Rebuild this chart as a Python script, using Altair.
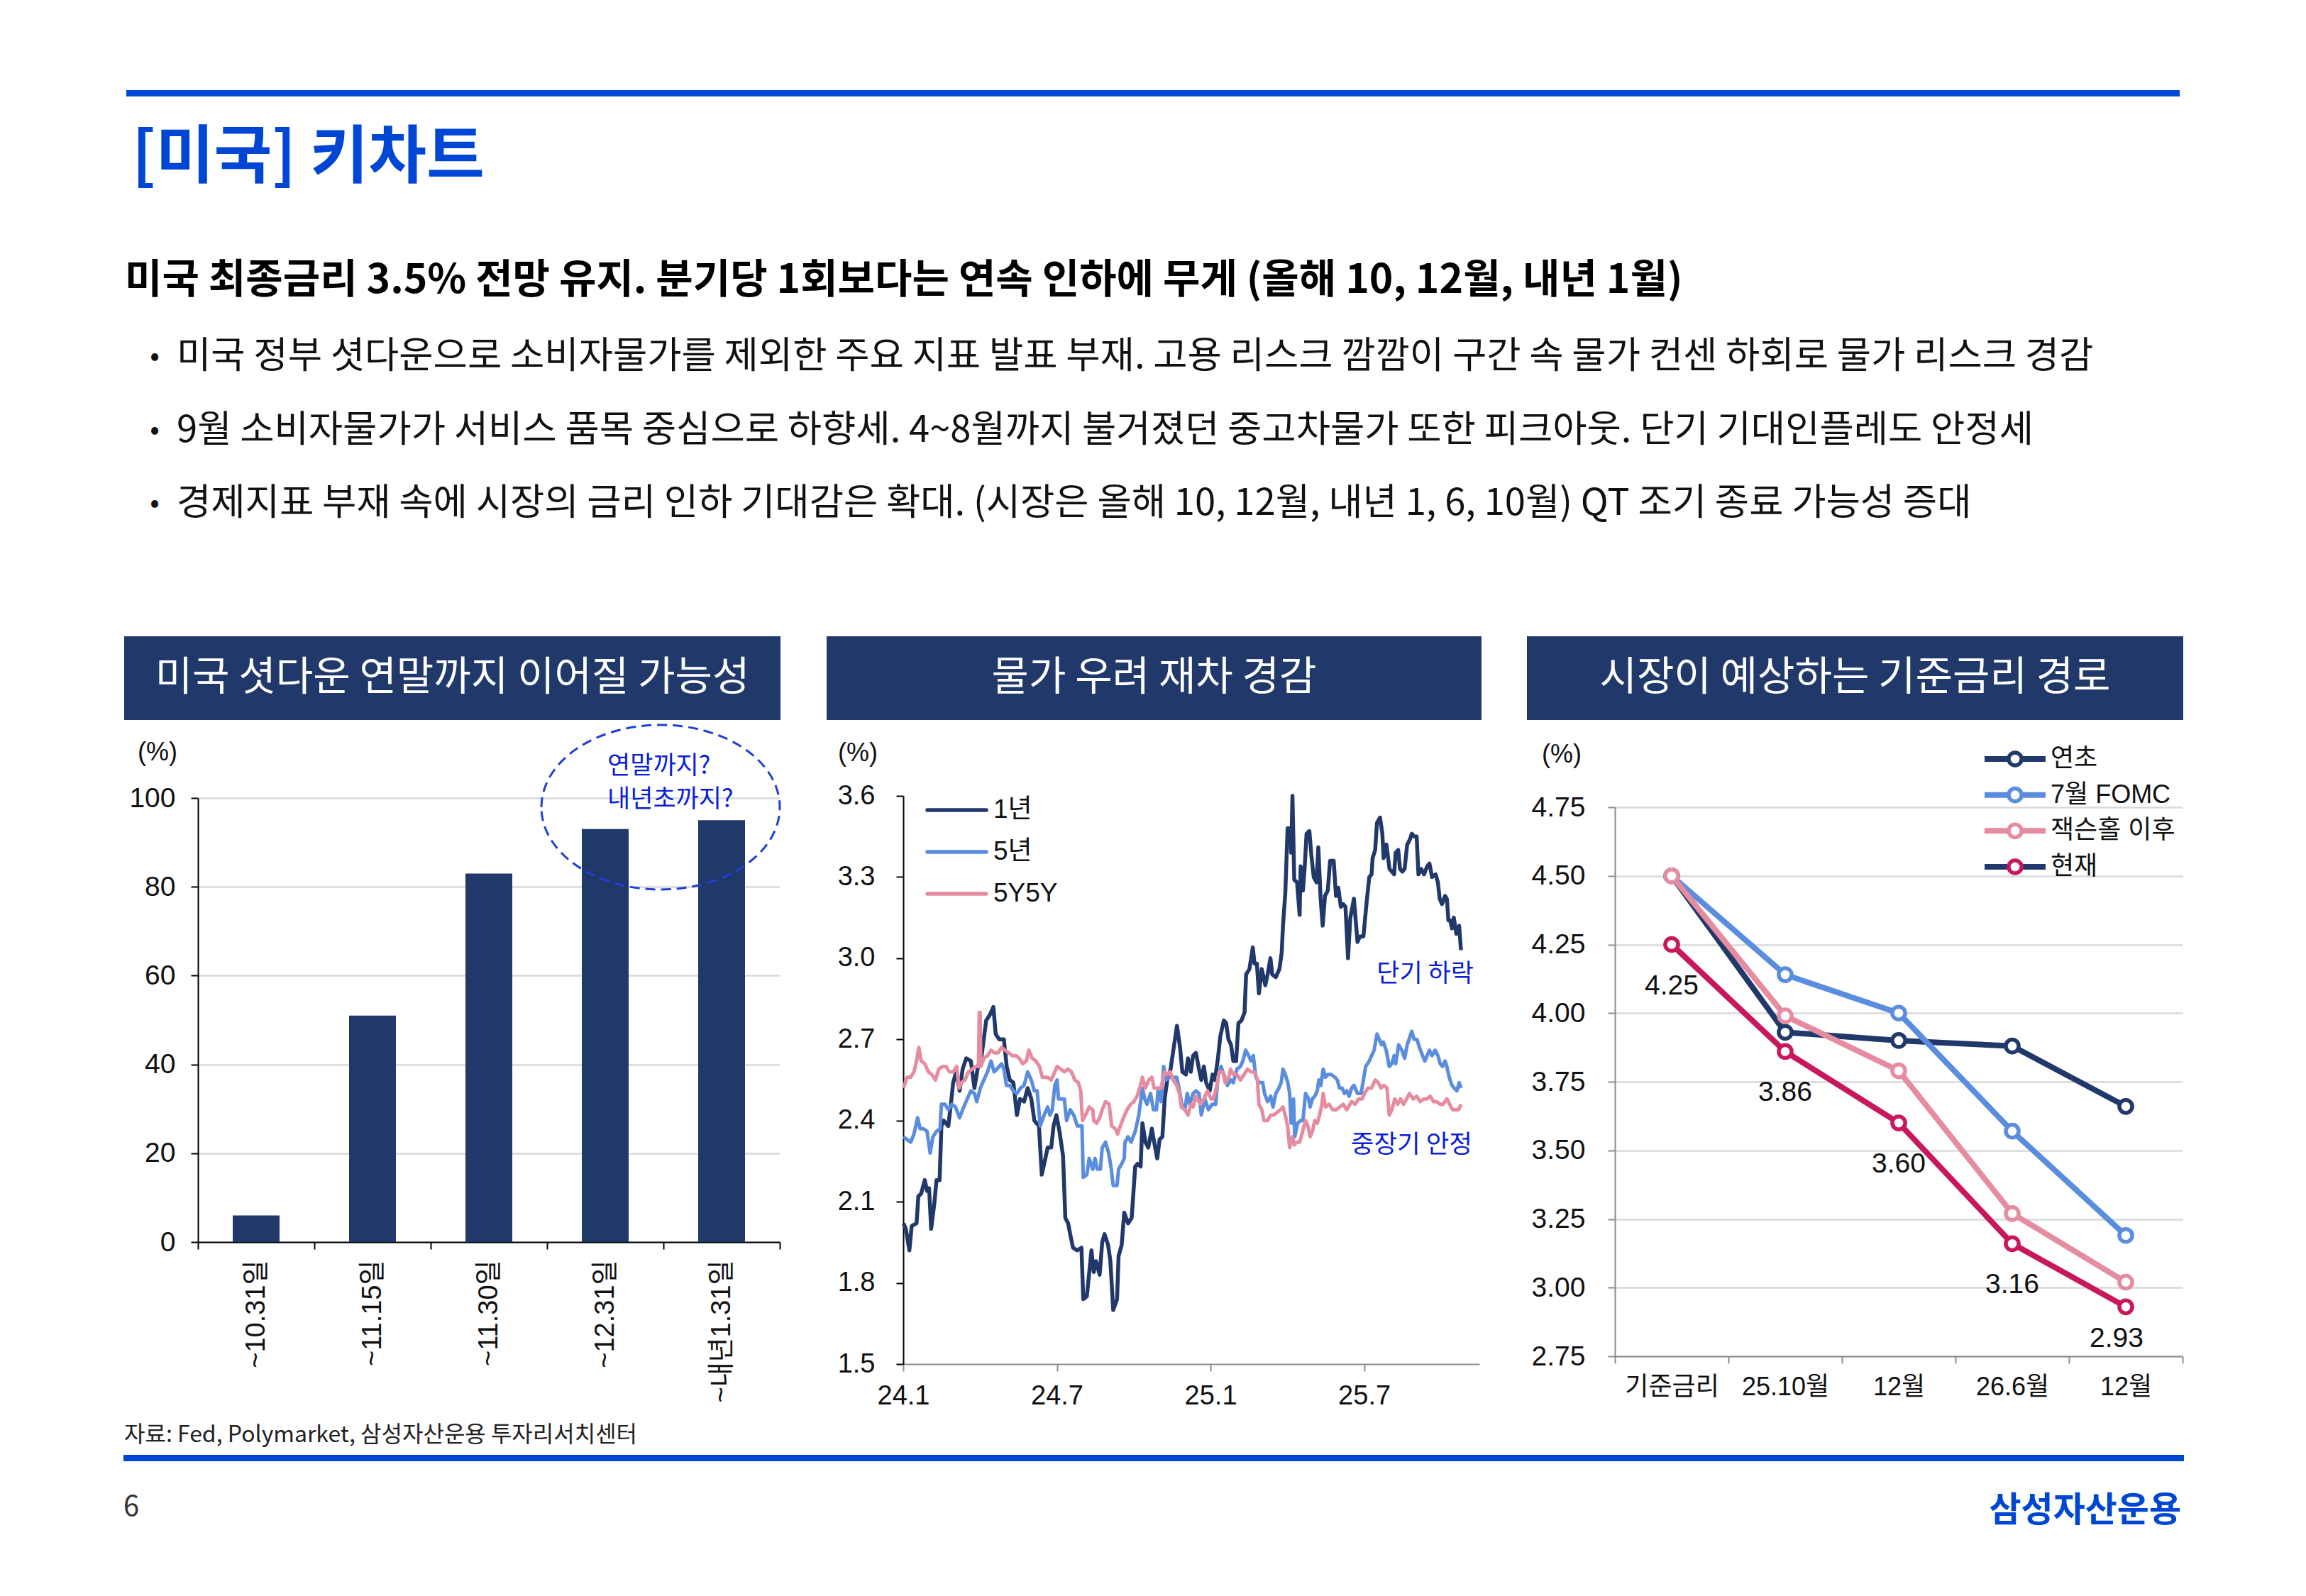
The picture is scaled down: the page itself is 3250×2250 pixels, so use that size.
import json
import altair as alt
import pandas as pd

# ------------------------------------------------------------------ styles
KR = "Noto Sans CJK KR"
LAT = "Liberation Sans, Noto Sans CJK KR"
NAVY = "#21386B"
BLUE = "#5B8DDF"
PINK = "#E68CA0"
RED = "#C8175D"
BRAND = "#0046D5"
ANNO = "#0A1ED8"
ELLIPSE_C = "#1F3FD6"
GRID = "#D9D9D9"
AXIS_GRAY = "#8C8C8C"
INK = "#111111"

# ------------------------------------------------------------------ texts
TITLE = "[미국] 키차트"
HEADLINE = "미국 최종금리 3.5% 전망 유지. 분기당 1회보다는 연속 인하에 무게 (올해 10, 12월, 내년 1월)"
BULLETS = [
    "미국 정부 셧다운으로 소비자물가를 제외한 주요 지표 발표 부재. 고용 리스크 깜깜이 구간 속 물가 컨센 하회로 물가 리스크 경감",
    "9월 소비자물가가 서비스 품목 중심으로 하향세. 4~8월까지 불거졌던 중고차물가 또한 피크아웃. 단기 기대인플레도 안정세",
    "경제지표 부재 속에 시장의 금리 인하 기대감은 확대. (시장은 올해 10, 12월, 내년 1, 6, 10월) QT 조기 종료 가능성 증대",
]
PANEL_TITLES = ["미국 셧다운 연말까지 이어질 가능성", "물가 우려 재차 경감", "시장이 예상하는 기준금리 경로"]
SOURCE = "자료: Fed, Polymarket, 삼성자산운용 투자리서치센터"
PAGE_NO = "6"
LOGO = "삼성자산운용"
UNIT = "(%)"

# ------------------------------------------------------------------ panel 1 data
shut_cats = ["~10.31일", "~11.15일", "~11.30일", "~12.31일", "~내년1.31일"]
shut_vals = [6, 51, 83, 93, 95]
shut_ticks = [0, 20, 40, 60, 80, 100]
ellipse_notes = ["연말까지?", "내년초까지?"]

# ------------------------------------------------------------------ panel 2 data (months since Jan 2024, %)
infl_names = ["1년", "5년", "5Y5Y"]
infl_x_ticks = [0, 6, 12, 18]
infl_x_labels = ["24.1", "24.7", "25.1", "25.7"]
infl_y_ticks = [1.5, 1.8, 2.1, 2.4, 2.7, 3.0, 3.3, 3.6]
infl_notes = ["단기 하락", "중장기 안정"]

one_year = [
    (0.01, 2.02), (0.10, 2.00), (0.24, 1.92), (0.33, 2.01), (0.52, 2.02), (0.59, 2.12), (0.70, 2.13),
    (0.84, 2.18), (0.93, 2.14), (1.01, 2.15), (1.09, 2.00), (1.21, 2.09), (1.30, 2.18), (1.42, 2.18),
    (1.49, 2.38), (1.58, 2.40), (1.76, 2.38), (1.86, 2.46), (1.95, 2.54), (2.07, 2.58), (2.20, 2.51),
    (2.32, 2.59), (2.46, 2.63), (2.64, 2.62), (2.78, 2.52), (2.92, 2.60), (3.06, 2.64), (3.24, 2.77),
    (3.38, 2.79), (3.52, 2.82), (3.61, 2.72), (3.75, 2.70), (3.93, 2.70), (4.04, 2.60), (4.16, 2.55),
    (4.30, 2.54), (4.44, 2.42), (4.56, 2.48), (4.72, 2.47), (4.86, 2.52), (5.00, 2.48), (5.12, 2.40),
    (5.30, 2.38), (5.41, 2.20), (5.55, 2.26), (5.64, 2.30), (5.78, 2.30), (5.87, 2.38), (5.98, 2.42),
    (6.10, 2.36), (6.24, 2.27), (6.33, 2.04), (6.44, 2.02), (6.52, 1.98), (6.63, 1.93), (6.80, 1.92),
    (6.96, 1.93), (7.03, 1.74), (7.17, 1.75), (7.35, 1.92), (7.44, 1.84), (7.53, 1.88), (7.67, 1.83),
    (7.77, 1.95), (7.86, 1.98), (8.00, 1.94), (8.09, 1.88), (8.20, 1.70), (8.35, 1.74), (8.41, 1.90),
    (8.53, 1.94), (8.63, 2.06), (8.78, 2.02), (8.92, 2.04), (9.06, 2.23), (9.15, 2.24), (9.27, 2.23),
    (9.34, 2.39), (9.46, 2.32), (9.57, 2.30), (9.71, 2.37), (9.80, 2.32), (9.92, 2.26), (10.01, 2.33),
    (10.12, 2.34), (10.21, 2.48), (10.31, 2.55), (10.44, 2.59), (10.58, 2.68), (10.69, 2.75), (10.81, 2.67),
    (10.90, 2.58), (11.04, 2.57), (11.12, 2.63), (11.23, 2.58), (11.32, 2.64), (11.43, 2.65), (11.55, 2.59),
    (11.64, 2.55), (11.74, 2.60), (11.83, 2.54), (11.97, 2.51), (12.08, 2.57), (12.17, 2.55), (12.29, 2.63),
    (12.38, 2.71), (12.52, 2.77), (12.61, 2.76), (12.70, 2.70), (12.80, 2.68), (12.89, 2.62), (13.00, 2.62),
    (13.09, 2.76), (13.21, 2.77), (13.33, 2.80), (13.39, 2.94), (13.52, 2.96), (13.65, 3.04), (13.72, 2.98),
    (13.81, 2.98), (13.89, 2.87), (14.00, 2.96), (14.14, 2.90), (14.23, 2.94), (14.34, 3.00), (14.41, 2.94),
    (14.55, 2.93), (14.69, 2.96), (14.78, 3.02), (14.83, 3.12), (14.92, 3.24), (15.01, 3.48), (15.11, 3.48),
    (15.15, 3.39), (15.20, 3.60), (15.27, 3.29), (15.38, 3.28), (15.48, 3.16), (15.52, 3.34), (15.61, 3.25),
    (15.68, 3.34), (15.75, 3.46), (15.86, 3.47), (15.94, 3.38), (16.03, 3.30), (16.14, 3.28), (16.21, 3.41),
    (16.30, 3.22), (16.38, 3.12), (16.47, 3.23), (16.58, 3.25), (16.67, 3.36), (16.81, 3.36), (16.90, 3.23),
    (16.99, 3.26), (17.09, 3.19), (17.18, 3.20), (17.27, 3.19), (17.37, 3.00), (17.46, 3.15), (17.60, 3.22),
    (17.74, 3.06), (17.83, 3.08), (17.97, 3.08), (18.11, 3.22), (18.20, 3.30), (18.29, 3.31), (18.33, 3.37),
    (18.43, 3.40), (18.50, 3.50), (18.62, 3.52), (18.71, 3.46), (18.76, 3.37), (18.87, 3.42), (18.99, 3.33),
    (19.08, 3.32), (19.17, 3.31), (19.23, 3.39), (19.33, 3.40), (19.40, 3.33), (19.49, 3.32), (19.58, 3.33),
    (19.68, 3.42), (19.79, 3.44), (19.86, 3.46), (19.95, 3.45), (20.05, 3.45), (20.12, 3.31), (20.23, 3.33),
    (20.34, 3.31), (20.46, 3.34), (20.55, 3.35), (20.65, 3.30), (20.79, 3.31), (20.88, 3.28), (20.95, 3.22),
    (21.04, 3.20), (21.16, 3.23), (21.23, 3.22), (21.29, 3.14), (21.36, 3.14), (21.43, 3.11), (21.50, 3.15),
    (21.60, 3.09), (21.71, 3.12), (21.78, 3.03),
]

five_year = [
    (0.01, 2.34), (0.15, 2.33), (0.29, 2.32), (0.42, 2.35), (0.56, 2.41), (0.66, 2.37), (0.79, 2.37),
    (0.93, 2.36), (1.05, 2.28), (1.16, 2.34), (1.30, 2.36), (1.44, 2.37), (1.49, 2.46), (1.63, 2.46),
    (1.76, 2.44), (1.90, 2.46), (2.04, 2.45), (2.20, 2.41), (2.36, 2.45), (2.50, 2.48), (2.64, 2.51),
    (2.78, 2.50), (2.87, 2.47), (3.01, 2.52), (3.15, 2.55), (3.29, 2.58), (3.43, 2.62), (3.55, 2.58),
    (3.66, 2.59), (3.84, 2.61), (3.93, 2.59), (4.03, 2.53), (4.16, 2.53), (4.30, 2.51), (4.44, 2.50),
    (4.58, 2.52), (4.72, 2.53), (4.86, 2.58), (5.00, 2.55), (5.12, 2.51), (5.23, 2.51), (5.35, 2.38),
    (5.50, 2.42), (5.64, 2.45), (5.73, 2.42), (5.82, 2.44), (5.92, 2.53), (6.01, 2.55), (6.06, 2.48),
    (6.20, 2.48), (6.29, 2.48), (6.38, 2.40), (6.52, 2.44), (6.66, 2.42), (6.80, 2.38), (6.98, 2.38),
    (7.03, 2.19), (7.17, 2.20), (7.26, 2.26), (7.40, 2.22), (7.49, 2.26), (7.58, 2.22), (7.70, 2.22),
    (7.77, 2.30), (7.90, 2.32), (8.02, 2.28), (8.11, 2.23), (8.20, 2.16), (8.35, 2.16), (8.41, 2.22),
    (8.53, 2.24), (8.63, 2.26), (8.66, 2.32), (8.78, 2.34), (8.90, 2.32), (9.06, 2.36), (9.20, 2.42),
    (9.34, 2.52), (9.43, 2.48), (9.52, 2.46), (9.66, 2.50), (9.77, 2.44), (9.89, 2.44), (9.95, 2.51),
    (10.07, 2.47), (10.17, 2.60), (10.26, 2.55), (10.40, 2.56), (10.54, 2.56), (10.68, 2.56), (10.79, 2.51),
    (10.88, 2.46), (11.00, 2.44), (11.09, 2.50), (11.19, 2.46), (11.32, 2.50), (11.43, 2.51), (11.55, 2.50),
    (11.64, 2.42), (11.78, 2.48), (11.92, 2.44), (12.06, 2.46), (12.20, 2.46), (12.29, 2.56), (12.41, 2.60),
    (12.52, 2.57), (12.66, 2.53), (12.80, 2.55), (12.89, 2.54), (13.03, 2.59), (13.17, 2.60), (13.26, 2.62),
    (13.37, 2.66), (13.49, 2.64), (13.58, 2.62), (13.67, 2.64), (13.77, 2.56), (13.90, 2.54), (14.04, 2.54),
    (14.11, 2.50), (14.23, 2.47), (14.35, 2.49), (14.44, 2.45), (14.55, 2.50), (14.67, 2.52), (14.76, 2.54),
    (14.83, 2.59), (14.92, 2.57), (15.02, 2.54), (15.09, 2.50), (15.15, 2.39), (15.24, 2.48), (15.29, 2.34),
    (15.40, 2.39), (15.52, 2.40), (15.61, 2.40), (15.71, 2.50), (15.83, 2.48), (15.89, 2.45), (15.98, 2.48),
    (16.07, 2.49), (16.17, 2.51), (16.23, 2.55), (16.31, 2.53), (16.40, 2.59), (16.49, 2.56), (16.58, 2.57),
    (16.72, 2.57), (16.86, 2.56), (16.95, 2.55), (17.04, 2.52), (17.14, 2.52), (17.23, 2.50), (17.32, 2.51),
    (17.41, 2.49), (17.51, 2.52), (17.60, 2.53), (17.74, 2.50), (17.88, 2.50), (17.97, 2.55), (18.06, 2.60),
    (18.20, 2.62), (18.29, 2.64), (18.39, 2.66), (18.50, 2.72), (18.59, 2.70), (18.68, 2.68), (18.75, 2.69),
    (18.86, 2.66), (18.98, 2.60), (19.08, 2.61), (19.17, 2.64), (19.23, 2.61), (19.35, 2.68), (19.47, 2.66),
    (19.58, 2.63), (19.68, 2.68), (19.79, 2.71), (19.86, 2.73), (19.95, 2.70), (20.06, 2.70), (20.16, 2.67),
    (20.28, 2.64), (20.37, 2.62), (20.46, 2.64), (20.55, 2.66), (20.65, 2.64), (20.77, 2.66), (20.88, 2.64),
    (20.97, 2.61), (21.06, 2.60), (21.16, 2.62), (21.23, 2.60), (21.32, 2.56), (21.43, 2.53), (21.52, 2.52),
    (21.62, 2.51), (21.71, 2.54), (21.78, 2.52),
]

five_y_five_y = [
    (0.01, 2.52), (0.15, 2.56), (0.29, 2.56), (0.42, 2.58), (0.52, 2.62), (0.61, 2.67), (0.70, 2.62),
    (0.84, 2.61), (0.98, 2.58), (1.12, 2.57), (1.26, 2.55), (1.39, 2.59), (1.53, 2.60), (1.67, 2.60),
    (1.81, 2.58), (1.95, 2.58), (2.09, 2.60), (2.18, 2.52), (2.27, 2.54), (2.41, 2.55), (2.55, 2.58),
    (2.69, 2.59), (2.83, 2.60), (2.94, 2.60), (2.97, 2.80), (3.00, 2.80), (3.03, 2.60), (3.15, 2.63),
    (3.29, 2.64), (3.43, 2.66), (3.56, 2.65), (3.70, 2.65), (3.84, 2.67), (3.98, 2.66), (4.12, 2.65),
    (4.26, 2.64), (4.40, 2.64), (4.53, 2.63), (4.67, 2.61), (4.81, 2.62), (4.90, 2.66), (5.04, 2.63),
    (5.18, 2.62), (5.32, 2.60), (5.43, 2.56), (5.55, 2.56), (5.64, 2.56), (5.78, 2.55), (5.92, 2.58),
    (6.01, 2.60), (6.15, 2.59), (6.29, 2.58), (6.43, 2.59), (6.57, 2.58), (6.70, 2.55), (6.84, 2.54),
    (6.93, 2.51), (7.00, 2.40), (7.12, 2.42), (7.26, 2.45), (7.40, 2.44), (7.44, 2.40), (7.55, 2.39),
    (7.67, 2.41), (7.77, 2.44), (7.90, 2.47), (8.04, 2.46), (8.14, 2.38), (8.28, 2.37), (8.37, 2.35),
    (8.48, 2.38), (8.60, 2.41), (8.74, 2.44), (8.88, 2.46), (9.01, 2.47), (9.13, 2.49), (9.24, 2.52),
    (9.34, 2.56), (9.46, 2.52), (9.59, 2.55), (9.71, 2.56), (9.80, 2.52), (9.94, 2.52), (10.07, 2.52),
    (10.20, 2.58), (10.31, 2.57), (10.42, 2.58), (10.54, 2.55), (10.68, 2.53), (10.79, 2.50), (10.86, 2.45),
    (11.00, 2.44), (11.12, 2.42), (11.23, 2.46), (11.32, 2.45), (11.43, 2.49), (11.60, 2.46), (11.74, 2.48),
    (11.88, 2.51), (12.02, 2.48), (12.11, 2.48), (12.25, 2.53), (12.34, 2.58), (12.48, 2.58), (12.57, 2.54),
    (12.71, 2.56), (12.78, 2.59), (12.89, 2.57), (13.03, 2.57), (13.17, 2.55), (13.31, 2.57), (13.44, 2.59),
    (13.58, 2.58), (13.72, 2.58), (13.83, 2.55), (13.89, 2.46), (14.00, 2.44), (14.09, 2.40), (14.23, 2.40),
    (14.35, 2.42), (14.46, 2.42), (14.60, 2.43), (14.73, 2.44), (14.83, 2.45), (14.92, 2.42), (15.01, 2.38),
    (15.09, 2.30), (15.20, 2.34), (15.27, 2.31), (15.36, 2.32), (15.48, 2.32), (15.57, 2.35), (15.71, 2.40),
    (15.80, 2.38), (15.89, 2.34), (15.98, 2.36), (16.07, 2.40), (16.17, 2.39), (16.26, 2.42), (16.35, 2.46),
    (16.40, 2.50), (16.49, 2.45), (16.63, 2.46), (16.77, 2.44), (16.91, 2.44), (17.04, 2.45), (17.18, 2.46),
    (17.32, 2.44), (17.51, 2.47), (17.65, 2.46), (17.78, 2.48), (17.92, 2.48), (18.01, 2.50), (18.15, 2.52),
    (18.29, 2.52), (18.43, 2.55), (18.55, 2.54), (18.66, 2.52), (18.77, 2.53), (18.89, 2.52), (18.98, 2.42),
    (19.08, 2.44), (19.20, 2.48), (19.31, 2.46), (19.42, 2.48), (19.54, 2.46), (19.66, 2.48), (19.77, 2.50),
    (19.91, 2.48), (20.05, 2.49), (20.19, 2.47), (20.33, 2.48), (20.46, 2.48), (20.58, 2.49), (20.71, 2.47),
    (20.83, 2.47), (20.97, 2.46), (21.08, 2.46), (21.23, 2.48), (21.34, 2.46), (21.45, 2.44), (21.53, 2.44),
    (21.69, 2.44), (21.78, 2.46),
]

# ------------------------------------------------------------------ panel 3 data
path_cats = ["기준금리", "25.10월", "12월", "26.6월", "12월"]
path_names = ["연초", "7월 FOMC", "잭슨홀 이후", "현재"]
path_start = [4.50, 3.93, 3.90, 3.88, 3.66]
path_july = [4.50, 4.14, 4.00, 3.57, 3.19]
path_jackson = [4.50, 3.99, 3.79, 3.27, 3.02]
path_now = [4.25, 3.86, 3.60, 3.16, 2.93]
path_y_ticks = [2.75, 3.0, 3.25, 3.5, 3.75, 4.0, 4.25, 4.5, 4.75]

# ------------------------------------------------------------------ layout (page pixels)
P1_X, P2_X, P3_X, P_Y = 279, 1273, 2276, 897
P1_W, P1_H, P1_TOP = 820, 854, 228
P2_W, P2_H, P2_PLOT_W, P2_TOP = 829, 1026, 812, 225
P3_W, P3_H, P3_TOP = 800, 1015, 241
GAP = 174
ONE = pd.DataFrame({"a": [0]})
NO_FRAME = alt.ViewBackground(stroke="transparent", strokeWidth=0)


def txt(s, x, y, ox, size, color=INK, weight="normal", align="left", font=KR):
    return alt.Chart(pd.DataFrame({"t": [s]})).mark_text(
        align=align, baseline="middle", font=font, fontSize=size, fontWeight=weight, color=color
    ).encode(x=alt.value(x - ox), y=alt.value(y - P_Y), text="t:N")


def box(x1, y1, x2, y2, ox, color, opacity=1):
    return alt.Chart(ONE).mark_rect(color=color, opacity=opacity).encode(
        x=alt.value(x1 - ox), x2=alt.value(x2 - ox), y=alt.value(y1 - P_Y), y2=alt.value(y2 - P_Y)
    )


def header(i, ox):
    a, b = [(175, 1100), (1165, 2088), (2152, 3077)][i]
    return [box(a, 897, b, 1015, ox, NAVY),
            txt(PANEL_TITLES[i], (a + b) / 2, 956, ox, 57, "white", align="center")]


# ================================================================== panel 1 (+ page decorations)
deco = [
    box(8, 8, 3242, 2242, P1_X, "white", opacity=0),     # fixes the page extent
    box(178, 127, 3072, 136, P1_X, BRAND),
    txt(TITLE, 186, 223, P1_X, 89, BRAND, "bold"),
    txt(HEADLINE, 176, 396, P1_X, 57, "#000000", "bold"),
]
for i, b in enumerate(BULLETS):
    yy = [503, 607, 710][i]
    deco.append(txt("•", 218, yy, P1_X, 40, INK, align="center"))
    deco.append(txt(b, 249, yy, P1_X, 52.5, INK))

deco += header(0, P1_X)
deco += [
    txt(SOURCE, 175, 2023, P1_X, 32, "#222222"),
    box(174, 2051, 3078, 2060, P1_X, BRAND),
    txt(PAGE_NO, 174, 2125, P1_X, 40, "#333333"),
    txt(LOGO, 3074, 2130, P1_X, 49, BRAND, "bold", align="right"),
    txt(UNIT, 222, 1061, P1_X, 36, INK, align="center", font=LAT),
]

bar_df = pd.DataFrame({"cat": shut_cats, "val": shut_vals})
x_bar = alt.X(
    "cat:N", sort=shut_cats,
    scale=alt.Scale(domain=shut_cats, range=[0, P1_W], paddingInner=0, paddingOuter=0),
    axis=alt.Axis(title=None, labelAngle=-90, labelFont=LAT, labelFontSize=38, labelColor=INK,
                  labelLimit=400, labelPadding=15, tickBand="extent", tickSize=10, tickColor="#000000",
                  tickWidth=2, domainColor="#000000", domainWidth=2),
)
y_bar = alt.Y(
    "val:Q", scale=alt.Scale(domain=[0, 100], range=[P1_H, P1_TOP], nice=False),
    axis=alt.Axis(title=None, values=shut_ticks, grid=True, gridColor=GRID, gridWidth=2.5,
                  labelFont=LAT, labelFontSize=39, labelColor=INK, labelPadding=22, tickSize=10,
                  tickColor="#000000", tickWidth=2, domainColor="#000000", domainWidth=2),
)
bars = alt.Chart(bar_df).mark_bar(color=NAVY, width=66).encode(x=x_bar, y=y_bar)

k = 0.5523
ry = 116 / 168
ELLIPSE = (
    f"M-1,0C-1,{-k*ry:.4f} {-k:.4f},{-ry:.4f} 0,{-ry:.4f}C{k:.4f},{-ry:.4f} 1,{-k*ry:.4f} 1,0"
    f"C1,{k*ry:.4f} {k:.4f},{ry:.4f} 0,{ry:.4f}C{-k:.4f},{ry:.4f} -1,{k*ry:.4f} -1,0Z"
)
ellipse = alt.Chart(ONE).mark_point(
    shape=ELLIPSE, size=336 ** 2, filled=False, stroke=ELLIPSE_C, strokeWidth=3,
    strokeDash=[14, 8], opacity=1
).encode(x=alt.value(931 - P1_X), y=alt.value(1138 - P_Y))
ell_txt = [txt(s, 856, y, P1_X, 35, ANNO) for s, y in zip(ellipse_notes, [1080, 1127])]

p1 = alt.layer(*deco, bars, ellipse, *ell_txt).properties(width=P1_W, height=P1_H, view=NO_FRAME)

# ================================================================== panel 2
lab_expr2 = (f"{json.dumps(infl_x_labels, ensure_ascii=False)}"
             f"[indexof({json.dumps(infl_x_ticks)}, datum.value)]")
x_m = alt.X(
    "m:Q", scale=alt.Scale(domain=[0, 22.5], range=[0, P2_PLOT_W], nice=False, zero=False),
    axis=alt.Axis(title=None, values=infl_x_ticks, labelExpr=lab_expr2, labelFlush=False, grid=False,
                  labelFont=LAT, labelFontSize=38, labelColor=INK, labelPadding=16, tickSize=10,
                  tickColor=AXIS_GRAY, tickWidth=2, domainColor=AXIS_GRAY, domainWidth=2),
)
y_v = alt.Y(
    "v:Q", scale=alt.Scale(domain=[1.5, 3.6], range=[P2_H, P2_TOP], nice=False, zero=False),
    axis=alt.Axis(title=None, values=infl_y_ticks, format=".1f", grid=False, labelFlush=False,
                  labelFont=LAT, labelFontSize=38, labelColor=INK, labelPadding=30, tickSize=10,
                  tickColor="#000000", tickWidth=2, domainColor="#000000", domainWidth=2),
)
infl_colors = [NAVY, BLUE, PINK]
infl_widths = [5.5, 5, 5]
lines2 = []
for pts, c, w in zip([one_year, five_year, five_y_five_y], infl_colors, infl_widths):
    df = pd.DataFrame(pts, columns=["m", "v"])
    lines2.append(alt.Chart(df).mark_line(color=c, strokeWidth=w, strokeJoin="round").encode(x=x_m, y=y_v))
main2 = alt.layer(*lines2)

leg2_df = pd.DataFrame({"s": infl_names})
leg2_y = alt.Y("s:N", scale=alt.Scale(type="point", domain=infl_names, range=[245, 363], padding=0), axis=None)
leg2_c = alt.Color("s:N", scale=alt.Scale(domain=infl_names, range=infl_colors), legend=None)
leg2 = alt.layer(
    alt.Chart(leg2_df).mark_rule(strokeWidth=5.5, strokeCap="round").encode(
        x=alt.value(34), x2=alt.value(117), y=leg2_y, color=leg2_c),
    alt.Chart(leg2_df).mark_text(align="left", baseline="middle", font=LAT, fontSize=37, color=INK).encode(
        x=alt.value(127), y=leg2_y, text="s:N"),
)
deco2 = header(1, P2_X) + [
    txt(UNIT, 1209, 1062, P2_X, 36, INK, align="center", font=LAT),
    txt(infl_notes[0], 2077, 1373, P2_X, 35, ANNO, align="right"),
    txt(infl_notes[1], 2075, 1614, P2_X, 35.5, ANNO, align="right"),
]
p2 = alt.layer(*deco2, main2, leg2).resolve_scale(y="independent").properties(
    width=P2_W, height=P2_H, view=NO_FRAME)

# ================================================================== panel 3
lab_expr3 = f"{json.dumps(path_cats, ensure_ascii=False)}[datum.value]"
x_i = alt.X(
    "i:O", scale=alt.Scale(type="band", domain=list(range(5)), range=[0, P3_W], paddingInner=0, paddingOuter=0),
    axis=alt.Axis(title=None, labelExpr=lab_expr3, labelAngle=0, labelFont=LAT, labelFontSize=36,
                  labelColor=INK, labelPadding=16, tickBand="extent", tickSize=10, tickColor=AXIS_GRAY,
                  tickWidth=2, domainColor=AXIS_GRAY, domainWidth=2),
)
y_r = alt.Y(
    "v:Q", scale=alt.Scale(domain=[2.75, 4.75], range=[P3_H, P3_TOP], nice=False, zero=False),
    axis=alt.Axis(title=None, values=path_y_ticks, format=".2f", grid=True, gridColor=GRID, gridWidth=2.5,
                  labelFont=LAT, labelFontSize=39, labelColor=INK, labelPadding=32, tickSize=10,
                  tickColor=AXIS_GRAY, tickWidth=2, domainColor=AXIS_GRAY, domainWidth=2),
)
path_colors = [NAVY, BLUE, PINK, RED]
series3 = [path_start, path_july, path_jackson, path_now]
l3, pt3 = [], []
for vals, c in zip(series3, path_colors):
    df = pd.DataFrame({"i": list(range(5)), "v": vals})
    l3.append(alt.Chart(df).mark_line(color=c, strokeWidth=8).encode(x=x_i, y=y_r))
    pt3.append(alt.Chart(df).mark_point(shape="circle", filled=True, fill="white", stroke=c, strokeWidth=5.5,
                                        size=330, opacity=1).encode(x=x_i, y=y_r))
now_df = pd.DataFrame({"i": list(range(5)), "v": path_now, "lab": [f"{v:.2f}" for v in path_now]})
lab3a = alt.Chart(now_df.iloc[:4]).mark_text(dy=58, font=LAT, fontSize=39, color=INK).encode(x=x_i, y=y_r, text="lab:N")
lab3b = alt.Chart(now_df.iloc[4:]).mark_text(dy=45, dx=-13, font=LAT, fontSize=39, color=INK).encode(x=x_i, y=y_r, text="lab:N")
main3 = alt.layer(*l3, *pt3, lab3a, lab3b)

leg3_df = pd.DataFrame({"s": path_names})
leg3_y = alt.Y("s:N", scale=alt.Scale(type="point", domain=path_names, range=[173, 325], padding=0), axis=None)
leg3_c = alt.Color("s:N", scale=alt.Scale(domain=path_names, range=path_colors), legend=None)
leg3_s = alt.Stroke("s:N", scale=alt.Scale(domain=path_names, range=path_colors), legend=None)
leg3 = alt.layer(
    alt.Chart(leg3_df).mark_rule(strokeWidth=8).encode(x=alt.value(521), x2=alt.value(607), y=leg3_y, color=leg3_c),
    alt.Chart(leg3_df).mark_point(shape="circle", filled=True, fill="white", strokeWidth=5.5, size=330,
                                  opacity=1).encode(x=alt.value(564), y=leg3_y, stroke=leg3_s),
    alt.Chart(leg3_df).mark_text(align="left", baseline="middle", font=LAT, fontSize=36, color=INK).encode(
        x=alt.value(614), y=leg3_y, text="s:N"),
)
deco3 = header(2, P3_X) + [txt(UNIT, 2201, 1064, P3_X, 36, INK, align="center", font=LAT)]
p3 = alt.layer(*deco3, main3, leg3).resolve_scale(y="independent").properties(
    width=P3_W, height=P3_H, view=NO_FRAME)

# ================================================================== page
chart = alt.HConcatChart(hconcat=[p1, p2, p3], spacing=GAP, bounds="flush", padding=0)
chart = chart.configure_view(stroke="transparent", strokeWidth=0).configure(font=KR)
chart.save("out.html", embed_options={"renderer": "svg", "actions": False})
